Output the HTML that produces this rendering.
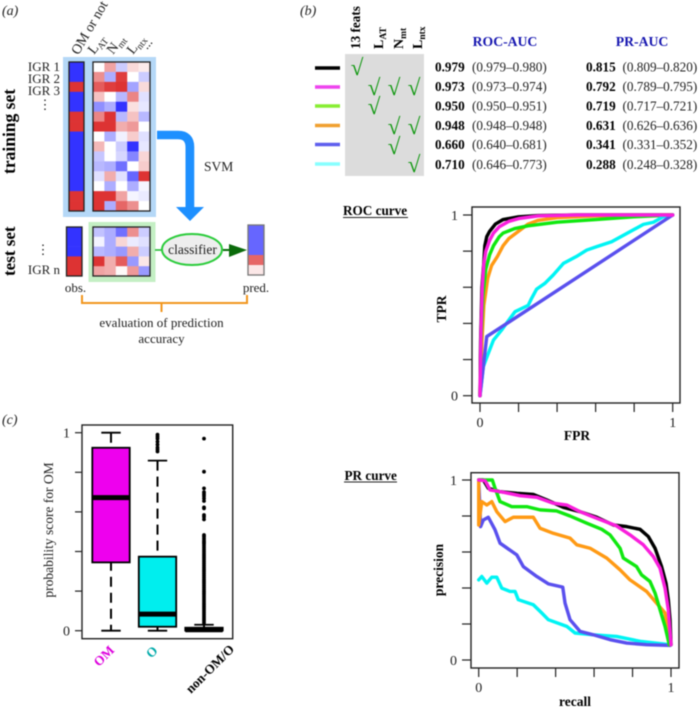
<!DOCTYPE html>
<html lang="en">
<head>
<meta charset="utf-8">
<title>OM prediction figure</title>
<style>
html,body{margin:0;padding:0;background:#fff;}
svg{display:block;filter:blur(0.4px);}
text{font-family:"Liberation Serif","DejaVu Serif",serif;fill:#222;}
.t{font-size:13.2px;}
.b{font-weight:bold;fill:#000;}
.chk{font-size:23px;fill:#0c960c;text-anchor:middle;}
.panel{font-size:14px;font-style:italic;}
.rl{font-size:13px;}
</style>
</head>
<body>
<svg id="fig" xmlns="http://www.w3.org/2000/svg" width="698" height="709" viewBox="0 0 698 709">
  <rect x="0" y="0" width="698" height="709" fill="#fff"/>

  <!-- Panel a -->
  <g id="panel-a">
    <text class="panel" x="2" y="15">(a)</text>
    <rect x="63" y="57" width="93" height="160" fill="#b5d8f7"/>
    <rect x="88.5" y="222" width="67" height="60" fill="#c4efc4"/>
    <text class="rl" transform="translate(78.5,55.5) rotate(-60)" style="font-size:14px">OM or not</text>
    <text class="rl" transform="translate(94,55) rotate(-52)" style="font-size:14px">L<tspan dy="3" font-size="9.5">AT</tspan></text>
    <text class="rl" transform="translate(113,55) rotate(-52)" style="font-size:14px">N<tspan dy="3" font-size="9.5">mt</tspan></text>
    <text class="rl" transform="translate(133,55) rotate(-52)" style="font-size:14px">L<tspan dy="3" font-size="9.5">ntx</tspan></text>
    <text class="rl" transform="translate(147,50) rotate(-52)">...</text>
    <text class="b" transform="translate(15,174) rotate(-90)" style="font-size:17.5px">training set</text>
    <text class="b" transform="translate(15,276) rotate(-90)" style="font-size:17px">test set</text>
    <text class="rl" x="60" y="71" text-anchor="end">IGR 1</text>
    <text class="rl" x="60" y="83" text-anchor="end">IGR 2</text>
    <text class="rl" x="60" y="95" text-anchor="end">IGR 3</text>
    <text class="rl" x="45" y="109" text-anchor="middle">⋮</text>
    <text class="rl" x="43" y="254" text-anchor="middle">⋮</text>
    <text class="rl" x="60" y="274" text-anchor="end">IGR n</text>
    <text class="rl" x="75.5" y="292" text-anchor="middle">obs.</text>
    <text class="rl" x="256" y="292" text-anchor="middle">pred.</text>
    <path d="M157,135 H178 Q190,135 190,147 V207 H204 L190,221 L176,207 H185.5 V147 Q185.5,139 178,139 H157 Z" fill="#1e90ff" stroke="#1e90ff" stroke-width="0"/>
    <path d="M157,135 H178 Q190,135 190,147 V208" fill="none" stroke="#1e90ff" stroke-width="8.5"/>
    <text class="rl" x="204" y="171" style="font-size:13.5px">SVM</text>
    <line x1="155" y1="250" x2="162" y2="250" stroke="#22bb33" stroke-width="1.6"/>
    <ellipse cx="192" cy="249.5" rx="30" ry="15.5" fill="#eeeeee" stroke="#2ccc3c" stroke-width="2"/>
    <text class="rl" x="192.5" y="254" text-anchor="middle" style="font-size:13.5px">classifier</text>
    <line x1="223" y1="250" x2="232" y2="250" stroke="#0b6b0b" stroke-width="2"/>
    <path d="M229,244 L247,250 L229,257 Z" fill="#0b6b0b"/>
    <path d="M82,295 V303 H247 V295 M161.5,303 V312" fill="none" stroke="#f2961e" stroke-width="2"/>
    <text class="rl" x="161.5" y="327" text-anchor="middle">evaluation of prediction</text>
    <text class="rl" x="161.5" y="343" text-anchor="middle">accuracy</text>
  </g>

  <!-- Panel b table -->
  <g id="panel-b">
    <text class="panel" x="300" y="15">(b)</text>
    <rect x="345" y="54" width="79" height="122" fill="#dcdcdc"/>
    <text class="b" transform="translate(360,49) rotate(-90)" style="font-size:13.2px">13 feats</text>
    <text class="b" transform="translate(383,49) rotate(-90)" style="font-size:14px">L<tspan dy="3" font-size="9.5">AT</tspan></text>
    <text class="b" transform="translate(403,49) rotate(-90)" style="font-size:14px">N<tspan dy="3" font-size="9.5">mt</tspan></text>
    <text class="b" transform="translate(422,49) rotate(-90)" style="font-size:14px">L<tspan dy="3" font-size="9.5">ntx</tspan></text>
    <text x="505" y="46" text-anchor="middle" style="font-size:13.7px;font-weight:bold;fill:#1616b0">ROC-AUC</text>
    <text x="642" y="46" text-anchor="middle" style="font-size:13.7px;font-weight:bold;fill:#1616b0">PR-AUC</text>

    <line x1="315" y1="68" x2="340" y2="68" stroke="#000" stroke-width="3.5"/>
    <line x1="315" y1="87" x2="340" y2="87" stroke="#ee44ee" stroke-width="3.5"/>
    <line x1="315" y1="106" x2="340" y2="106" stroke="#88ee33" stroke-width="3.5"/>
    <line x1="315" y1="125.5" x2="340" y2="125.5" stroke="#f0a030" stroke-width="3.5"/>
    <line x1="315" y1="144.5" x2="340" y2="144.5" stroke="#5f5fee" stroke-width="3.5"/>
    <line x1="315" y1="164" x2="340" y2="164" stroke="#88ffff" stroke-width="3.5"/>

    <text class="chk" x="357" y="75">√</text>
    <text class="chk" x="374" y="95">√</text>
    <text class="chk" x="394" y="95">√</text>
    <text class="chk" x="414" y="95">√</text>
    <text class="chk" x="374" y="114">√</text>
    <text class="chk" x="394" y="134">√</text>
    <text class="chk" x="414" y="134">√</text>
    <text class="chk" x="394" y="154">√</text>
    <text class="chk" x="414" y="172">√</text>

    <g class="t">
      <text class="b t" x="435" y="71.5">0.979</text><text class="t" x="472" y="71.5">(0.979–0.980)</text>
      <text class="b t" x="435" y="91">0.973</text><text class="t" x="472" y="91">(0.973–0.974)</text>
      <text class="b t" x="435" y="110.5">0.950</text><text class="t" x="472" y="110.5">(0.950–0.951)</text>
      <text class="b t" x="435" y="130">0.948</text><text class="t" x="472" y="130">(0.948–0.948)</text>
      <text class="b t" x="435" y="149">0.660</text><text class="t" x="472" y="149">(0.640–0.681)</text>
      <text class="b t" x="435" y="169">0.710</text><text class="t" x="472" y="169">(0.646–0.773)</text>
    </g>
    <g class="t">
      <text class="b t" x="586" y="71.5">0.815</text><text class="t" x="622.5" y="71.5">(0.809–0.820)</text>
      <text class="b t" x="586" y="91">0.792</text><text class="t" x="622.5" y="91">(0.789–0.795)</text>
      <text class="b t" x="586" y="110.5">0.719</text><text class="t" x="622.5" y="110.5">(0.717–0.721)</text>
      <text class="b t" x="586" y="130">0.631</text><text class="t" x="622.5" y="130">(0.626–0.636)</text>
      <text class="b t" x="586" y="149">0.341</text><text class="t" x="622.5" y="149">(0.331–0.352)</text>
      <text class="b t" x="586" y="169">0.288</text><text class="t" x="622.5" y="169">(0.248–0.328)</text>
    </g>
    <text class="b" x="343" y="215" style="font-size:13.2px">ROC curve</text>
    <line x1="343" y1="217.5" x2="408" y2="217.5" stroke="#222" stroke-width="1"/>
    <text class="b" x="344.5" y="480" style="font-size:13.2px">PR curve</text>
    <line x1="344" y1="482" x2="397" y2="482" stroke="#222" stroke-width="1"/>
  </g>

  <text class="panel" x="2" y="424">(c)</text>
  <g id="layer-heatmaps"></g>
  <g id="layer-roc"></g>
  <g id="layer-pr"></g>
  <g id="layer-box"></g>
</svg>

<script>
// ---------- Heatmap data (blue -1 .. white 0 .. red +1) ----------
const trainObs = [-1,-1,1,-1,-1,1,1,-1,-1,-1,-1,-1,-1,1,1];
const trainMatrix = [
  [0,.45,-.25,.18,.1],
  [.55,-.4,.95,0,-.25],
  [.8,.95,1,-.45,.18],
  [.3,0,-.35,.6,-.15],
  [-.55,-.4,-1,.15,-.12],
  [.6,1,-.35,.3,-.35],
  [1,1,.4,.5,0],
  [0,-.4,-.07,.25,-.15],
  [.35,0,-.25,-1,-.12],
  [-.28,0,-.2,-.6,.2],
  [-.35,-.4,-.7,0,.25],
  [-.15,.4,-.15,-.75,1],
  [0,-.4,0,-.4,-.05],
  [1,1,.45,-.05,-.1],
  [1,-.4,.75,.55,0]
];
const testObs = [-1,-1,-1,1,1];
const testMatrix = [
  [-.3,-.4,-.7,.55,-.25],
  [-.06,-.4,.2,-.1,-.15],
  [-.35,-.4,-.5,.4,-.25],
  [1,.4,.8,-.5,.12],
  [.45,.4,.03,.5,-.5]
];
const testPred = [-.75,-.75,-.75,.75,.12];

// ---------- ROC data: [FPR, TPR] ----------
const rocTicks = [0,.2,.4,.6,.8,1];
const rocTickLabels = ['0','','','','','1'];
const rocBlack = [[0,0],[.003,.3],[.01,.6],[.02,.74],[.025,.83],[.035,.88],[.05,.91],[.08,.95],[.12,.975],[.2,.99],[.3,.997],[.5,1],[1,1]];
const rocOrange = [[0,0],[.01,.3],[.02,.5],[.04,.65],[.06,.72],[.09,.77],[.12,.83],[.15,.87],[.2,.91],[.25,.95],[.3,.97],[.4,.985],[.6,.995],[1,1]];
const rocGreen = [[0,0],[.005,.3],[.015,.55],[.03,.7],[.05,.78],[.07,.83],[.1,.88],[.12,.9],[.18,.925],[.25,.94],[.4,.96],[.6,.975],[.8,.99],[1,1]];
const rocCyan = [[0,0],[.017,.16],[.043,.234],[.07,.308],[.112,.363],[.156,.428],[.182,.465],[.25,.5],[.268,.539],[.294,.59],[.337,.622],[.38,.668],[.433,.732],[.5,.77],[.554,.806],[.606,.825],[.683,.852],[.779,.908],[.848,.948],[.9,.96],[.95,.99],[1,1]];
const rocBlue = [[0,0],[.035,.327],[1,1]];
const rocMagenta = [[0,0],[.005,.35],[.012,.6],[.02,.73],[.03,.8],[.05,.86],[.07,.9],[.1,.935],[.15,.965],[.2,.98],[.3,.995],[.5,1],[1,1]];

// ---------- PR data: [recall, precision] ----------
const prTicks = [0,.2,.4,.6,.8,1];
const prTickLabels = ['0','','','','','1'];
const prBlack = [[0,1],[.024,1],[.05,.954],[.11,.935],[.2,.926],[.284,.92],[.354,.889],[.44,.848],[.527,.824],[.614,.793],[.7,.75],[.77,.741],[.839,.726],[.882,.686],[.917,.621],[.951,.519],[.974,.427],[.986,.335],[.995,.224],[1,.085]];
const prCyan = [[0,.445],[.016,.464],[.042,.427],[.068,.46],[.094,.46],[.12,.399],[.163,.381],[.189,.381],[.206,.335],[.284,.307],[.328,.261],[.362,.224],[.458,.187],[.501,.15],[.596,.14],[.717,.131],[.839,.104],[.995,.085]];
const prBlue = [[0,1],[.01,.741],[.024,.778],[.05,.793],[.085,.723],[.111,.649],[.198,.584],[.232,.519],[.302,.464],[.362,.423],[.437,.405],[.449,.316],[.475,.224],[.527,.159],[.596,.14],[.683,.113],[.77,.094],[.873,.085],[.995,.081]];
const prOrange = [[0,1],[0,.75],[.016,.88],[.042,.861],[.068,.88],[.094,.824],[.137,.769],[.18,.793],[.284,.793],[.319,.732],[.388,.704],[.475,.677],[.51,.64],[.579,.621],[.666,.566],[.735,.501],[.787,.445],[.873,.381],[.925,.316],[.969,.261],[.991,.085]];
const prGreen = [[0,1],[.071,1],[.085,.954],[.111,.88],[.172,.852],[.25,.852],[.319,.834],[.405,.828],[.475,.8],[.562,.76],[.64,.726],[.683,.695],[.735,.621],[.752,.566],[.821,.519],[.847,.473],[.891,.436],[.917,.372],[.943,.279],[.969,.187],[.991,.085]];
const prMagenta = [[0,1],[.033,.996],[.059,.945],[.128,.932],[.215,.913],[.302,.904],[.388,.871],[.458,.861],[.527,.824],[.614,.787],[.717,.745],[.787,.695],[.856,.64],[.908,.575],[.943,.51],[.969,.399],[.986,.279],[1,.085]];

// ---------- Box plot data ----------
const boxCategories = ['OM','O','non-OM/O'];
const boxQ1 = [.345,.02,.001];
const boxMedian = [.672,.084,.005];
const boxQ3 = [.924,.374,.015];
const boxWhiskerLow = [0,0,0];
const boxWhiskerHigh = [1,.859,.03];
const boxFills = ['#ee00ee','#00eeee','#00eeee'];
const boxLabelColors = ['#dd00dd','#00aaaa','#000000'];
const boxTicks = [0,.2,.4,.6,.8,1];
const boxTickLabels = ['0','','','','','1'];
const outliersO = [.99,.98,.97,.955,.94,.925,.915,.905];
const outliersNon = [.97,.803,.719,.70,.69,.68,.668,.655,.623,.618,.584,.575,.562,.483,.475,.465,.455,.447,.44,.43,.42,.41,.40,.39,.38,.37,.36,.35,.34,.33,.32,.31,.30,.29,.28,.27,.26,.25,.24,.23,.22,.21,.20,.19,.18,.17,.16,.15,.14,.13,.12,.11,.10,.09,.08,.07,.06,.05,.04];

const NS = 'http://www.w3.org/2000/svg';
function make(tag, attrs, parent){
  const el = document.createElementNS(NS, tag);
  for (const k in attrs) el.setAttribute(k, attrs[k]);
  parent.appendChild(el);
  return el;
}
function cellColor(v){
  const mix = (c, t) => Math.round(255 + (c - 255) * t);
  const t = Math.abs(v);
  return v >= 0
    ? 'rgb(' + mix(221,t) + ',' + mix(51,t) + ',' + mix(51,t) + ')'
    : 'rgb(' + mix(51,t) + ',' + mix(51,t) + ',' + mix(255,t) + ')';
}

// ---------- Heatmaps ----------
const hm = document.getElementById('layer-heatmaps');
function drawMatrix(rows, x0, y0, w, h, frame){
  const rh = h / rows.length, cw = w / rows[0].length;
  rows.forEach(function(row, r){
    row.forEach(function(v, c){
      const el = make('rect', {x:x0 + c*cw, y:y0 + r*rh, width:cw + .3, height:rh + .3, fill:cellColor(v)}, hm);
      
      
    });
  });
  const f = make('rect', {x:x0, y:y0, width:w, height:h, fill:'none', stroke:frame, 'stroke-width':1.3}, hm);
  
  
}
drawMatrix(trainObs.map(v => [v]), 69, 62, 15, 149, '#222');
drawMatrix(trainMatrix, 93, 62, 57, 149, '#222');
drawMatrix(testObs.map(v => [v]), 66.5, 227, 15.5, 49, '#222');
drawMatrix(testMatrix, 93, 227, 57, 49, '#222');
drawMatrix(testPred.map(v => [v]), 248, 225, 16, 50, '#777');

// ---------- Line chart helper ----------
function lineChart(g, box, ax, ticksX, labelsX, ticksY, labelsY, xTitle, yTitle, series){
  const xs = v => ax.x0 + v * (ax.x1 - ax.x0);
  const ys = v => ax.y0 + v * (ax.y1 - ax.y0);
  const frame = make('rect', {x:box.l, y:box.t, width:box.r-box.l, height:box.b-box.t, fill:'#fff', stroke:'#222', 'stroke-width':1.4}, g);
  
  
  ticksX.forEach(function(t, i){
    const tk = make('line', {x1:xs(t), x2:xs(t), y1:box.b, y2:box.b + 9, stroke:'#222', 'stroke-width':1.2}, g);
    
    
    if (labelsX[i]) {
      const lb = make('text', {x:xs(t), y:ax.xLabelY, 'text-anchor':'middle', 'font-size':14}, g);
      lb.textContent = labelsX[i];
      
      
    }
  });
  ticksY.forEach(function(t, i){
    const tk = make('line', {x1:box.l - 9, x2:box.l, y1:ys(t), y2:ys(t), stroke:'#222', 'stroke-width':1.2}, g);
    
    
    if (labelsY[i]) {
      const lb = make('text', {x:box.l - 14, y:ys(t) + 5, 'text-anchor':'end', 'font-size':14}, g);
      lb.textContent = labelsY[i];
      
      
    }
  });
  const xt = make('text', {x:ax.xTitleX, y:ax.xTitleY, 'text-anchor':'middle', 'font-size':13.5, 'font-weight':'bold', style:'fill:#000'}, g);
  xt.textContent = xTitle;
  
  
  const yt = make('text', {transform:'translate(' + ax.yTitleX + ',' + ax.yTitleY + ') rotate(-90)', 'text-anchor':'middle', 'font-size':13.5, 'font-weight':'bold', style:'fill:#000'}, g);
  yt.textContent = yTitle;
  
  
  series.forEach(function(s){
    const d = s.data.map((p, i) => (i ? 'L' : 'M') + xs(p[0]).toFixed(2) + ',' + ys(p[1]).toFixed(2)).join(' ');
    const path = make('path', {d:d, fill:'none', stroke:s.color, 'stroke-width':3.4, 'stroke-linejoin':'round', 'stroke-linecap':'round'}, g);
    
    
  });
}

lineChart(document.getElementById('layer-roc'),
  {l:472, r:680, t:207, b:403},
  {x0:480, x1:672.7, y0:395.7, y1:215, xLabelY:427, xTitleX:577, xTitleY:440, yTitleX:446, yTitleY:309},
  rocTicks, rocTickLabels, rocTicks, rocTickLabels, 'FPR', 'TPR',
  [
    {name:'roc-line-13-feats', data:rocBlack, color:'#000000'},
    {name:'roc-line-nmt-lntx', data:rocOrange, color:'#ff9a14'},
    {name:'roc-line-lat', data:rocGreen, color:'#10e810'},
    {name:'roc-line-lntx', data:rocCyan, color:'#00f4f4'},
    {name:'roc-line-nmt', data:rocBlue, color:'#5a50ee'},
    {name:'roc-line-all-three', data:rocMagenta, color:'#f91fdc'}
  ]);

lineChart(document.getElementById('layer-pr'),
  {l:471, r:679, t:472.7, b:668},
  {x0:478.7, x1:671, y0:660, y1:480, xLabelY:692, xTitleX:575, xTitleY:706, yTitleX:443, yTitleY:570},
  prTicks, prTickLabels, prTicks, prTickLabels, 'recall', 'precision',
  [
    {name:'pr-line-13-feats', data:prBlack, color:'#000000'},
    {name:'pr-line-lntx', data:prCyan, color:'#00f4f4'},
    {name:'pr-line-nmt', data:prBlue, color:'#5a50ee'},
    {name:'pr-line-nmt-lntx', data:prOrange, color:'#ff9a14'},
    {name:'pr-line-lat', data:prGreen, color:'#10e810'},
    {name:'pr-line-all-three', data:prMagenta, color:'#f91fdc'}
  ]);

// ---------- Box plot ----------
(function(){
  const g = document.getElementById('layer-box');
  const box = {l:82, r:232.7, t:425, b:638.7};
  const ys = v => 630.7 + v * (432.7 - 630.7);
  const xs = i => 111 + i * 46.5;
  const halfBox = 18.7, halfCap = 9.7;
  const frame = make('rect', {x:box.l, y:box.t, width:box.r-box.l, height:box.b-box.t, fill:'#fff', stroke:'#222', 'stroke-width':1.4}, g);
  
  
  boxTicks.forEach(function(t, i){
    const tk = make('line', {x1:box.l - 7, x2:box.l, y1:ys(t), y2:ys(t), stroke:'#222', 'stroke-width':1.2}, g);
    
    
    if (boxTickLabels[i]) {
      const lb = make('text', {x:box.l - 12, y:ys(t) + 5, 'text-anchor':'end', 'font-size':14}, g);
      lb.textContent = boxTickLabels[i];
      
      
    }
  });
  const yt = make('text', {transform:'translate(53,530) rotate(-90)', 'text-anchor':'middle', 'font-size':13.5}, g);
  yt.textContent = 'probability score for OM';
  
  

  boxCategories.forEach(function(cat, i){
    const cx = xs(i);
    const wh = make('line', {x1:cx, x2:cx, y1:ys(boxWhiskerHigh[i]), y2:ys(boxWhiskerLow[i]), stroke:'#000', 'stroke-width':2, 'stroke-dasharray':'10 6'}, g);
    
    
    [boxWhiskerHigh[i], boxWhiskerLow[i]].forEach(function(v){
      const cap = make('line', {x1:cx - halfCap, x2:cx + halfCap, y1:ys(v), y2:ys(v), stroke:'#000', 'stroke-width':1.8}, g);
      
      
    });
    const r = make('rect', {x:cx - halfBox, y:ys(boxQ3[i]), width:halfBox*2, height:ys(boxQ1[i]) - ys(boxQ3[i]), fill:boxFills[i], stroke:'#000', 'stroke-width':1.8}, g);
    
    
    const m = make('line', {x1:cx - halfBox, x2:cx + halfBox, y1:ys(boxMedian[i]), y2:ys(boxMedian[i]), stroke:'#000', 'stroke-width':5}, g);
    
    
    const lb = make('text', {transform:'translate(' + (cx + [4,1,31][i]) + ',' + [651,651.5,650][i] + ') rotate(-45)', 'text-anchor':'end', 'font-size':13.2, 'font-weight':'bold', style:'fill:' + boxLabelColors[i]}, g);
    lb.textContent = cat;
    
    
  });
  [[1, outliersO], [2, outliersNon]].forEach(function(pair){
    pair[1].forEach(function(v){
      const c = make('circle', {cx:xs(pair[0]), cy:ys(v), r:1.9, fill:'#000'}, g);
      
      
    });
  });
})();
</script>
</body>
</html>
